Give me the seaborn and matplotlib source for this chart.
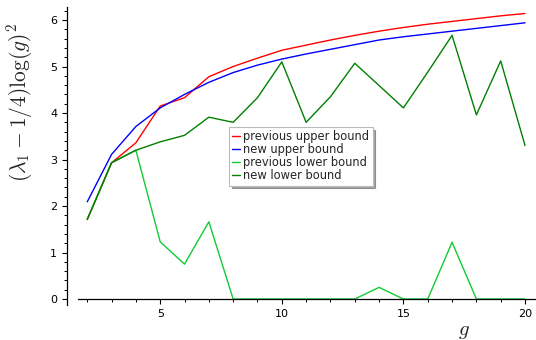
import numpy as np
import pandas as pd
import matplotlib
matplotlib.use("Agg")
import matplotlib.pyplot as plt
import seaborn as sns
from matplotlib.ticker import MultipleLocator

g = list(range(2, 21))
prev_upper = [1.71, 2.93, 3.36, 4.15, 4.33, 4.78, 5.00, 5.18, 5.35, 5.46, 5.57, 5.67,
              5.76, 5.84, 5.91, 5.97, 6.03, 6.09, 6.14]
new_upper = [2.09, 3.11, 3.71, 4.11, 4.40, 4.66, 4.87, 5.03, 5.16, 5.27, 5.37, 5.47,
             5.57, 5.64, 5.70, 5.76, 5.82, 5.88, 5.94]
prev_lower = [1.71, 2.93, 3.20, 1.23, 0.75, 1.66, 0.0, 0.0, 0.0, 0.0, 0.0, 0.0,
              0.25, 0.0, 0.0, 1.22, 0.0, 0.0, 0.0]
new_lower = [1.71, 2.93, 3.20, 3.38, 3.52, 3.91, 3.80, 4.33, 5.10, 3.80, 4.35, 5.07,
             4.59, 4.11, 4.88, 5.67, 3.96, 5.12, 3.30]

labels = ["previous upper bound", "new upper bound", "previous lower bound", "new lower bound"]
colors = ["#ff0000", "#0000ff", "#11cc33", "#008000"]

frames = []
for lab, vals in zip(labels, [prev_upper, new_upper, prev_lower, new_lower]):
    frames.append(pd.DataFrame({"g": g, "value": vals, "series": lab}))
df = pd.concat(frames, ignore_index=True)

sns.set_style("white")
plt.rcParams["font.family"] = ["DejaVu Sans"]
plt.rcParams["mathtext.fontset"] = "cm"

fig = plt.figure(figsize=(5.36, 3.40), dpi=100)
ax = fig.add_axes([78 / 536, 1 - 305 / 340, (535 - 78) / 536, (305 - 7) / 340])

sns.lineplot(data=df, x="g", y="value", hue="series", hue_order=labels,
             palette=dict(zip(labels, colors)), linewidth=1.0, ax=ax, legend=False)

for lab, c in zip(labels, colors):
    ax.plot([], [], color=c, lw=1.0, label=lab)

ax.set_xlim(1.62, 20.41)
ax.set_ylim(-0.129, 6.28)

for s in ["top", "right"]:
    ax.spines[s].set_visible(False)
ax.spines["bottom"].set_position(("data", 0))
ax.spines["left"].set_position(("outward", 7.9))
for s in ["left", "bottom"]:
    ax.spines[s].set_color("black")
    ax.spines[s].set_linewidth(0.9)

ax.xaxis.set_major_locator(MultipleLocator(5))
ax.xaxis.set_minor_locator(MultipleLocator(1))
ax.yaxis.set_major_locator(MultipleLocator(1))
ax.yaxis.set_minor_locator(MultipleLocator(0.2))
ax.tick_params(axis="both", which="major", length=3.5, width=0.8, labelsize=8,
               direction="out", colors="black")
ax.tick_params(axis="both", which="minor", length=2, width=0.7, direction="out",
               colors="black")
ax.tick_params(axis="x", which="both", bottom=True)
ax.tick_params(axis="y", which="both", left=True)

ax.set_xlabel("$g$", fontsize=15)
ax.xaxis.set_label_coords(0.845, -0.055)
ax.set_ylabel(r"$(\lambda_1 - 1/4)\log(g)^2$", fontsize=15.5)
ax.yaxis.set_label_coords(-0.093, 0.678)

leg = ax.legend(loc="upper left", bbox_to_anchor=(0.33, 0.598), fontsize=8.3,
                frameon=True, fancybox=False, shadow=True, handlelength=0.7,
                handletextpad=0.25, labelspacing=0.0, borderpad=0.3,
                borderaxespad=0.0)
leg.get_frame().set_edgecolor("#bbbbbb")
leg.get_frame().set_linewidth(0.8)

fig.savefig("out.png", dpi=100)
